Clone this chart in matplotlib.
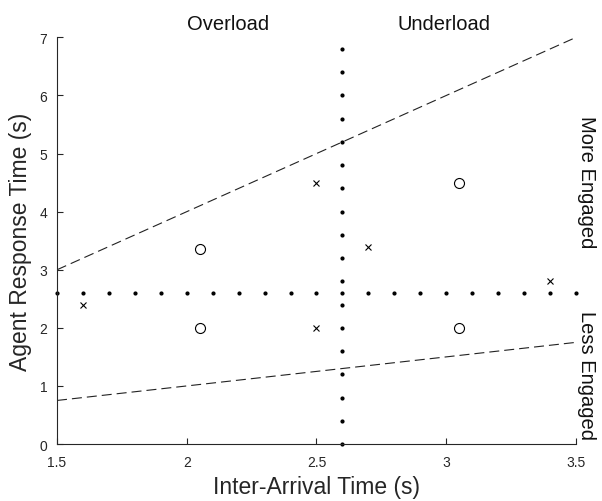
import matplotlib
matplotlib.use("Agg")
import matplotlib.pyplot as plt
import numpy as np

plt.rcParams['font.family'] = ['Liberation Sans', 'DejaVu Sans']

# data
circle_x = [2.05, 2.05, 3.05, 3.05]
circle_y = [3.35, 2.0, 4.5, 2.0]
cross_x = [1.6, 2.5, 2.5, 2.7, 3.4]
cross_y = [2.4, 4.5, 2.0, 3.4, 2.8]
vdot_y = np.arange(0, 6.81, 0.4)
vdot_x_val = 2.6
hdot_x = np.arange(1.5, 3.501, 0.1)
hdot_y_val = 2.6
line_x = [1.5, 3.5]
upper_y = [3.0, 7.0]
lower_y = [0.75, 1.75]
xticks = [1.5, 2, 2.5, 3, 3.5]
xticklabels = ['1.5', '2', '2.5', '3', '3.5']
yticks = [0, 1, 2, 3, 4, 5, 6, 7]

fig = plt.figure(figsize=(6.02, 5.02), dpi=100)
ax = fig.add_axes([0.0947, 0.1135, 0.862, 0.81])

ax.plot(line_x, upper_y, color='#222222', lw=0.8, dashes=(9, 4.5))
ax.plot(line_x, lower_y, color='#222222', lw=0.8, dashes=(9, 4.5))
ax.plot([vdot_x_val] * len(vdot_y), vdot_y, 'o', color='black', ms=2, ls='none', clip_on=False)
ax.plot(hdot_x, [hdot_y_val] * len(hdot_x), 'o', color='black', ms=2, ls='none', clip_on=False)
ax.plot(circle_x, circle_y, 'o', mfc='none', mec='black', ms=7.2, mew=0.8, ls='none')
ax.plot(cross_x, cross_y, 'x', color='black', ms=5, mew=0.8, ls='none')

ax.set_xlim(1.5, 3.5)
ax.set_ylim(0, 7)
ax.set_xticks(xticks)
ax.set_xticklabels(xticklabels)
ax.set_yticks(yticks)
for s in ['top', 'right']:
    ax.spines[s].set_visible(False)
for s in ['left', 'bottom']:
    ax.spines[s].set_linewidth(0.8)
    ax.spines[s].set_color('#262626')
ax.tick_params(direction='in', length=4, width=0.8, colors='#262626', labelsize=10)
ax.tick_params(axis='x', pad=8)
ax.tick_params(axis='y', pad=7)

ax.set_xlabel('Inter-Arrival Time (s)', fontsize=16.5, color='#262626', labelpad=4)
ax.set_ylabel('Agent Response Time (s)', fontsize=16.5, color='#262626', labelpad=5)

ax.text(2.16, 7.14, 'Overload', ha='center', va='baseline', fontsize=14.5, color='#111111')
ax.text(2.99, 7.14, 'Underload', ha='center', va='baseline', fontsize=14.5, color='#111111')
ax.text(3.505, 4.52, 'More Engaged', rotation=-90, ha='left', va='center', fontsize=14.5, color='#111111')
ax.text(3.505, 1.19, 'Less Engaged', rotation=-90, ha='left', va='center', fontsize=14.5, color='#111111')

fig.savefig('out.png', dpi=100)
